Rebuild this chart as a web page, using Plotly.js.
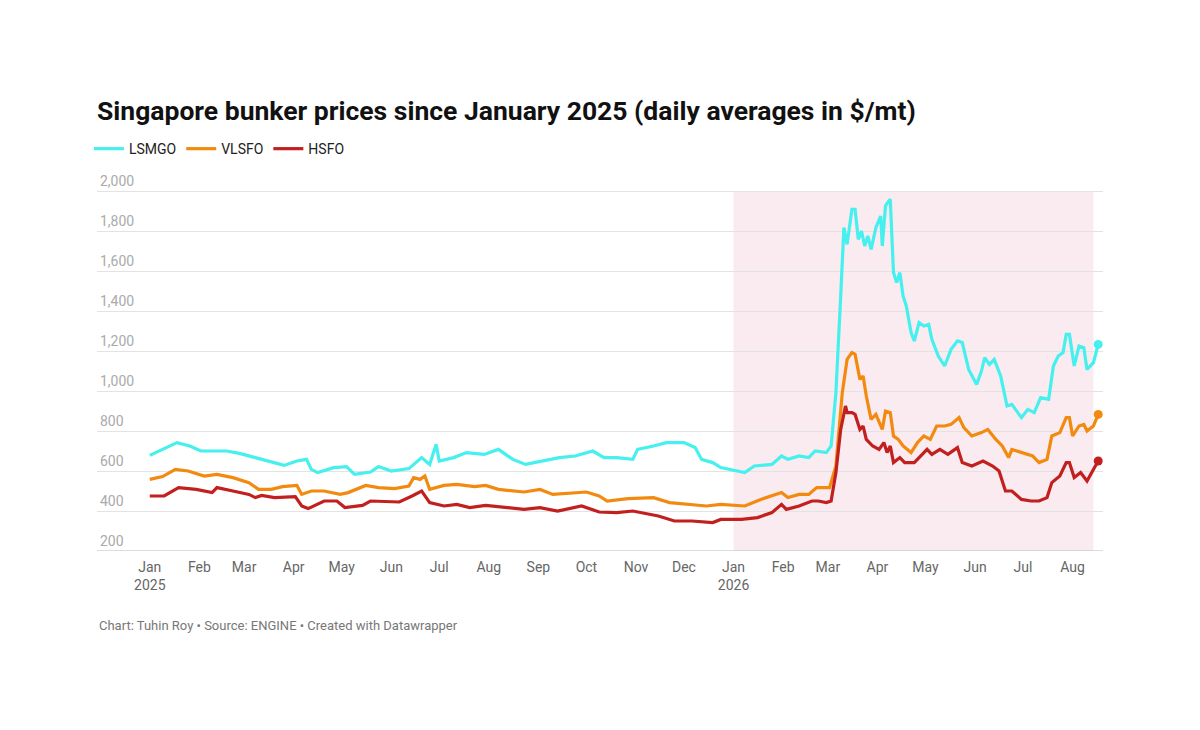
<!DOCTYPE html>
<html>
<head>
<meta charset="utf-8">
<script src="https://cdn.plot.ly/plotly-3.0.1.min.js"></script>
<style>body{margin:0;background:#fff}#chart{width:1200px;height:730px}</style>
</head>
<body>
<div id="chart"></div>
<script>
// days counted from 1 Jan 2025
var lsmgoDays = [0,8,17,25,32,48,56,66,74,84,92,98,101,105,115,123,128,138,143,151,162,170,175,179,181,190,198,209,218,227,235,245,256,266,277,284,292,302,305,315,323,334,341,345,352,
  357,372,378,389,395,399,406,412,416,423,426,429,432,434,436,439,441,443,445,447,449,451,454,457,458,460,462,463,465,467,469,471,473,476,478,481,484,487,489,493,497,501,505,508,512,517,520,522,525,528,532,536,539,545,549,553,557,562,565,568,571,573,575,578,581,584,586,590,593];
var lsmgoVals = [678,708,742,725,700,700,688,667,650,628,650,658,608,592,617,622,583,595,622,600,612,667,633,733,650,667,692,683,708,658,633,650,667,675,700,667,667,658,708,725,742,742,717,658,642,
  617,592,625,633,675,658,675,667,700,692,725,992,1475,1817,1733,1908,1908,1758,1800,1725,1775,1708,1817,1875,1725,1925,1950,1958,1592,1542,1592,1475,1425,1292,1250,1342,1325,1333,1258,1175,1125,1208,1250,1242,1108,1033,1100,1167,1133,1158,1075,925,933,867,908,892,967,958,1125,1175,1192,1283,1283,1125,1225,1217,1108,1142,1233];

var vlsfoDays = [0,8,16,24,34,42,52,62,68,76,83,92,95,101,109,119,124,135,143,153,162,165,169,172,175,184,192,203,210,218,234,244,252,265,273,281,286,299,315,325,335,348,
  357,372,382,395,399,406,412,417,425,429,433,436,439,441,444,446,448,451,454,458,460,463,465,468,471,476,480,484,488,492,497,501,506,509,514,520,524,529,533,537,539,546,552,556,561,564,569,573,575,577,581,584,586,590,593];
var vlsfoVals = [558,572,608,600,575,583,567,542,508,508,522,528,483,500,500,483,492,528,517,512,525,567,558,575,508,528,533,522,528,508,495,508,483,492,495,475,450,462,467,442,433,425,
  433,425,458,492,467,483,483,517,517,625,992,1158,1192,1183,1058,1075,975,858,883,808,900,892,775,758,725,692,742,775,758,825,825,833,867,817,775,792,808,758,725,667,708,692,675,642,658,775,792,867,867,775,825,833,800,825,883];

var hsfoDays = [0,9,18,29,39,42,52,62,66,70,78,91,95,99,109,117,122,133,138,148,156,164,170,175,184,192,200,210,221,234,244,255,270,281,292,302,318,328,339,352,
  357,370,380,389,395,398,406,414,418,423,426,429,432,435,436,439,441,444,446,448,452,456,459,461,463,465,469,472,478,482,486,489,494,499,505,508,514,521,527,531,535,539,545,551,556,561,564,569,573,575,578,582,586,590,593];
var hsfoVals = [475,475,517,508,492,517,500,483,467,478,467,472,425,412,450,450,417,428,450,445,445,475,500,442,425,433,417,428,417,408,417,400,425,395,392,400,375,350,350,342,
  358,358,367,392,433,408,425,450,450,442,450,592,808,925,892,892,883,808,825,758,725,708,742,692,725,642,667,642,642,675,708,683,708,683,717,642,625,650,625,600,500,500,458,450,450,467,542,575,642,642,567,592,550,608,650];

var tickDates = ['2025-01-01','2025-02-01','2025-03-01','2025-04-01','2025-05-01','2025-06-01','2025-07-01','2025-08-01','2025-09-01','2025-10-01','2025-11-01','2025-12-01','2026-01-01','2026-02-01','2026-03-01','2026-04-01','2026-05-01','2026-06-01','2026-07-01','2026-08-01'];
var tickLabels = ['Jan<br>2025','Feb','Mar','Apr','May','Jun','Jul','Aug','Sep','Oct','Nov','Dec','Jan<br>2026','Feb','Mar','Apr','May','Jun','Jul','Aug'];

function toDates(days) {
  return days.map(function (d) {
    var t = new Date(Date.UTC(2025, 0, 1) + d * 86400000);
    return t.toISOString().slice(0, 10);
  });
}

var traces = [];
var endDots = [];
[['LSMGO', lsmgoDays, lsmgoVals, '#45f0ee'],
 ['VLSFO', vlsfoDays, vlsfoVals, '#f28a0f'],
 ['HSFO', hsfoDays, hsfoVals, '#c1201f']].forEach(function (s) {
  var x = toDates(s[1]);
  traces.push({x: x, y: s[2], name: s[0], type: 'scatter', mode: 'lines',
    line: {color: s[3], width: 3.2}});
  endDots.push({x: [x[x.length - 1]], y: [s[2][s[2].length - 1]], type: 'scatter', mode: 'markers',
    showlegend: false, marker: {color: s[3], size: 9}});
});

var layout = {
  width: 1200, height: 730,
  margin: {l: 97, r: 97, t: 175, b: 179},
  paper_bgcolor: '#fff', plot_bgcolor: '#fff',
  font: {family: 'Roboto, sans-serif', color: '#888', size: 14},
  title: {text: '<b>Singapore bunker prices since January 2025 (daily averages in $/mt)</b>',
    x: 0, xref: 'paper', xanchor: 'left', y: 0.848, yref: 'container', yanchor: 'middle',
    font: {family: 'Roboto, sans-serif', size: 26.5, color: '#111'}},
  showlegend: true,
  legend: {orientation: 'h', x: -0.008, xanchor: 'left', y: 1.069, yanchor: 'middle',
    font: {size: 14, color: '#222'}, itemwidth: 30, tracegroupgap: 0},
  xaxis: {type: 'date', range: ['2024-11-29', '2026-08-20'],
    tickvals: tickDates, ticktext: tickLabels, showgrid: false,
    ticks: 'outside', ticklen: 3, tickcolor: '#fff', zeroline: false, showline: false,
    tickfont: {size: 14, color: '#666'}},
  yaxis: {range: [200, 2080], tickvals: [200,400,600,800,1000,1200,1400,1600,1800,2000],
    tickformat: ',', ticklabelposition: 'inside top', showgrid: true,
    gridcolor: '#e3e3e3', gridwidth: 1, zeroline: false,
    tickfont: {size: 14, color: '#aaa'}},
  shapes: [
    {type: 'rect', xref: 'x', yref: 'y', x0: '2026-01-01', x1: '2026-08-14', y0: 200, y1: 2000,
      fillcolor: '#f9ebef', line: {width: 0}, layer: 'below'},
    {type: 'line', xref: 'paper', yref: 'y', x0: 0, x1: 1, y0: 200, y1: 200,
      line: {color: '#bbb', width: 1}}
  ],
  annotations: [
    {text: '2,000', xref: 'paper', yref: 'y', x: 0, xanchor: 'left', xshift: 1, y: 2000, yanchor: 'bottom',
      showarrow: false, font: {size: 14, color: '#aaa'}},
    {text: 'Chart: Tuhin Roy • Source: ENGINE • Created with Datawrapper', xref: 'paper', yref: 'paper',
      x: 0, xanchor: 'left', y: -0.197, yanchor: 'middle', showarrow: false,
      font: {size: 13, color: '#777'}}
  ]
};

Plotly.newPlot('chart', traces.concat(endDots), layout, {displayModeBar: false, staticPlot: true});
</script>
</body>
</html>
